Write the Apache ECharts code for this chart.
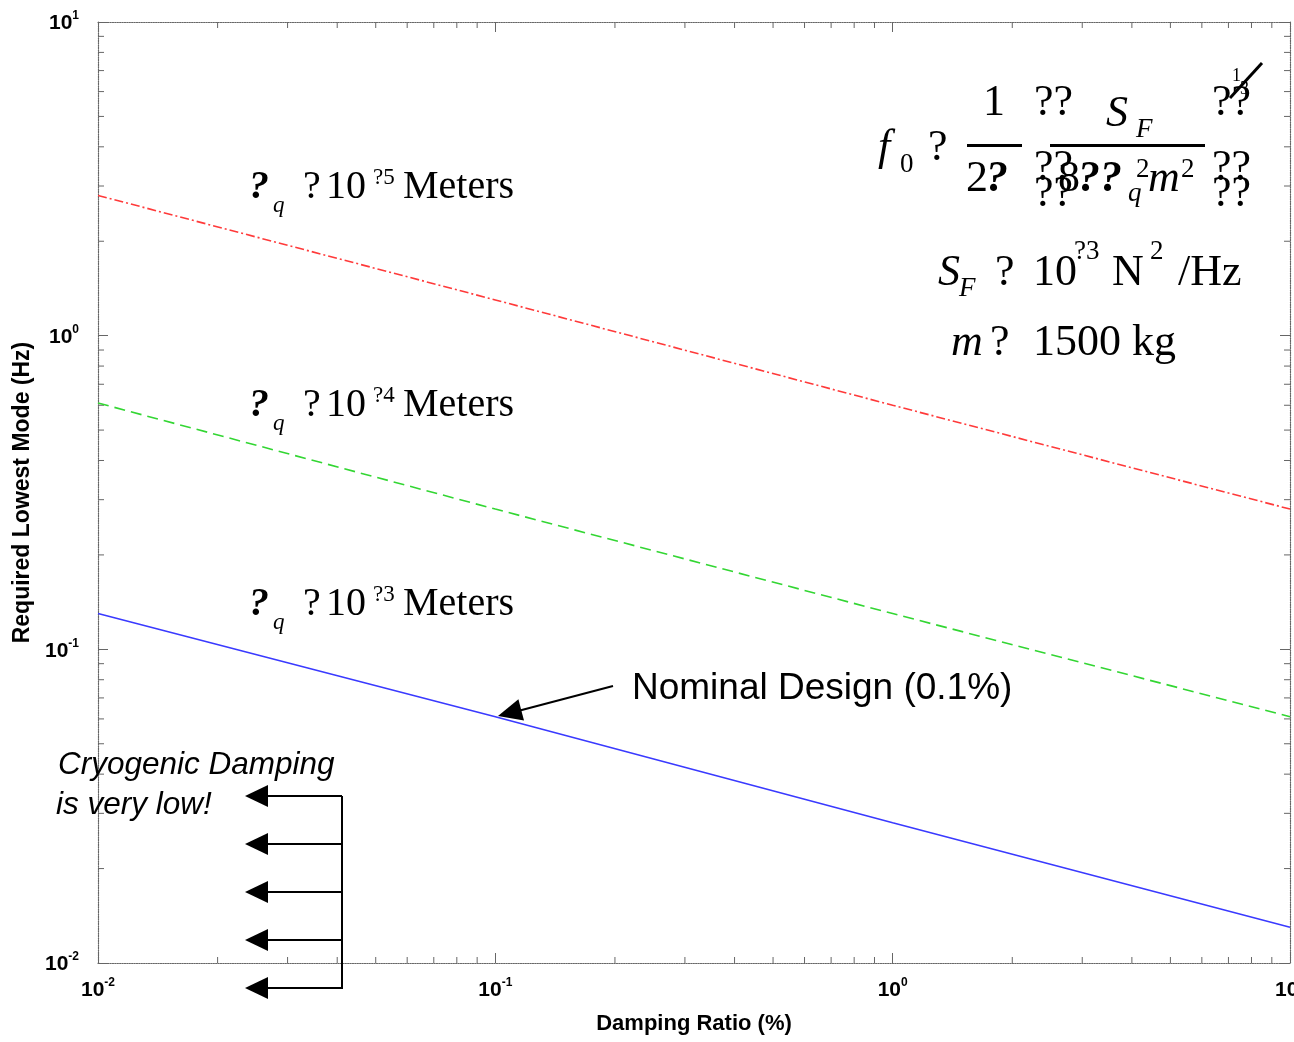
<!DOCTYPE html>
<html>
<head>
<meta charset="utf-8">
<style>
  html, body { margin: 0; padding: 0; background: #fff; }
  #chart { width: 1294px; height: 1042px; }
</style>
<script src="https://cdn.jsdelivr.net/npm/echarts@6/dist/echarts.min.js"></script>
</head>
<body>
<div id="chart"></div>
<script>
// ---- data ----
const dampingRatio = [0.01, 0.1, 1, 10];           // Damping Ratio (%)
const mode1e5 = [2.8, 1.3, 0.6, 0.28];             // δq = 10^-5 m
const mode1e4 = [0.61, 0.28, 0.13, 0.061];         // δq = 10^-4 m
const mode1e3 = [0.13, 0.061, 0.028, 0.013];       // δq = 10^-3 m

const xRange = [0.01, 10];
const yRange = [0.01, 10];
const xMinorTicks = [0.02,0.03,0.04,0.05,0.06,0.07,0.08,0.09,
                     0.2,0.3,0.4,0.5,0.6,0.7,0.8,0.9,
                     2,3,4,5,6,7,8,9];
const yMinorTicks = [0.02,0.03,0.04,0.05,0.06,0.07,0.08,0.09,
                     0.2,0.3,0.4,0.5,0.6,0.7,0.8,0.9,
                     2,3,4,5,6,7,8,9];

const SERIF = '"Liberation Serif", "Times New Roman", serif';
const SANS = '"Liberation Sans", Arial, sans-serif';

function pair(arr) { return dampingRatio.map((x, i) => [x, arr[i]]); }

function logLabel(v) {
  const e = Math.round(Math.log10(v));
  return '{b|10}{s|' + e + '}';
}
const labelRich = {
  b: { fontFamily: SANS, fontWeight: 'bold', fontSize: 21, lineHeight: 24, verticalAlign: 'bottom', color: '#000' },
  s: { fontFamily: SANS, fontWeight: 'bold', fontSize: 12, lineHeight: 12, verticalAlign: 'top', color: '#000' }
};

const frameLine = { show: true, lineStyle: { color: '#666', width: 1.2, type: 'dotted' } };
const majorTick = { show: true, inside: true, length: 10, lineStyle: { color: '#666', width: 1 } };

// text helper for annotations (baseline positioning)
function T(x, baseline, text, size, opt) {
  opt = opt || {};
  const fam = opt.sans ? SANS : SERIF;
  const font = (opt.italic ? 'italic ' : '') + (opt.bold ? 'bold ' : '') + size + 'px ' + fam;
  return {
    type: 'text', z: 100,
    style: {
      text: text, x: x, y: baseline - 0.31 * size, font: font,
      fill: '#000', align: opt.align || 'left', verticalAlign: 'middle'
    }
  };
}
function L(x1, y1, x2, y2, w) {
  return { type: 'line', z: 100, shape: { x1, y1, x2, y2 }, style: { stroke: '#000', lineWidth: w || 2 } };
}
function tri(pts) {
  return { type: 'polygon', z: 100, shape: { points: pts }, style: { fill: '#000' } };
}

const graphics = [];
// series labels
function seriesLabel(b, supText) {
  graphics.push(T(249, b, '?', 40, { bold: true, italic: true }));
  graphics.push(T(273, b + 13, 'q', 23, { italic: true }));
  graphics.push(T(303, b, '?', 40));
  graphics.push(T(326, b, '10', 40));
  graphics.push(T(373, b - 15, supText, 23));
  graphics.push(T(403, b, 'Meters', 40));
}
seriesLabel(200, '?5');
seriesLabel(418, '?4');
seriesLabel(617, '?3');

// equation
const E = 44, ES = 27;
graphics.push(T(878, 162, 'f', E, { italic: true }));
graphics.push(T(900, 173, '0', ES));
graphics.push(T(928, 162, '?', E));
graphics.push(T(994, 117, '1', E, { align: 'center' }));
graphics.push({ type: 'rect', z: 100, shape: { x: 967, y: 144, width: 55, height: 3 }, style: { fill: '#000' } });
graphics.push(T(966, 193, '2', E));
graphics.push(T(986, 193, '?', E, { bold: true, italic: true }));
[117, 182, 208].forEach(b => graphics.push(T(1034, b, '??', E)));
graphics.push(T(1106, 128, 'S', E, { italic: true }));
graphics.push(T(1136, 138, 'F', ES, { italic: true }));
graphics.push({ type: 'rect', z: 100, shape: { x: 1050, y: 144, width: 155, height: 3 }, style: { fill: '#000' } });
graphics.push(T(1058, 193, '8', E));
graphics.push(T(1078, 193, '??', E, { bold: true, italic: true }));
graphics.push(T(1128, 202, 'q', ES, { italic: true }));
graphics.push(T(1136, 178, '2', ES));
graphics.push(T(1148, 193, 'm', E, { italic: true }));
graphics.push(T(1181, 178, '2', ES));
[117, 182, 208].forEach(b => graphics.push(T(1212, b, '??', E)));
graphics.push(T(1232, 82, '1', 18));
graphics.push(T(1240, 95, '3', 18));
graphics.push(L(1230, 98, 1262, 63, 3));

// S_F line
graphics.push(T(938, 287, 'S', E, { italic: true }));
graphics.push(T(959, 297, 'F', ES, { italic: true }));
graphics.push(T(995, 287, '?', E));
graphics.push(T(1033, 287, '10', E));
graphics.push(T(1074, 260, '?3', ES));
graphics.push(T(1112, 287, 'N', E));
graphics.push(T(1150, 260, '2', ES));
graphics.push(T(1178, 287, '/Hz', E));
// m line
graphics.push(T(951, 357, 'm', E, { italic: true }));
graphics.push(T(990, 357, '?', E));
graphics.push(T(1033, 357, '1500', E));
graphics.push(T(1132, 357, 'kg', E));

// Nominal design
graphics.push(T(632, 700, 'Nominal Design (0.1%)', 37, { sans: true }));
graphics.push(L(613, 686, 518, 711, 2));
graphics.push(tri([[498, 716], [524, 720.6], [518.4, 699.3]]));

// Cryogenic damping
graphics.push(T(58, 775, 'Cryogenic Damping', 31.5, { sans: true, italic: true }));
graphics.push(T(56, 815, 'is very low!', 31.5, { sans: true, italic: true }));
graphics.push(L(342, 796, 342, 989, 2));
[796, 844, 892, 940, 988].forEach(y => {
  graphics.push(L(342, y, 265, y, 2));
  graphics.push(tri([[245, y], [268, y - 11], [268, y + 11]]));
});

function minorTickSeries(isX) {
  return {
    type: 'custom',
    coordinateSystem: 'cartesian2d',
    xAxisIndex: 0, yAxisIndex: 0,
    silent: true, clip: false, z: 5,
    data: (isX ? xMinorTicks : yMinorTicks).map(v => isX ? [v, 1] : [1, v]),
    renderItem: function (params, api) {
      const st = { stroke: '#666', lineWidth: 1 };
      if (isX) {
        const v = api.value(0);
        const b = api.coord([v, yRange[0]]);
        const t = api.coord([v, yRange[1]]);
        return { type: 'group', children: [
          { type: 'line', shape: { x1: b[0], y1: b[1], x2: b[0], y2: b[1] - 6 }, style: st },
          { type: 'line', shape: { x1: t[0], y1: t[1], x2: t[0], y2: t[1] + 6 }, style: st }
        ] };
      } else {
        const v = api.value(1);
        const l = api.coord([xRange[0], v]);
        const r = api.coord([xRange[1], v]);
        return { type: 'group', children: [
          { type: 'line', shape: { x1: l[0], y1: l[1], x2: l[0] + 6, y2: l[1] }, style: st },
          { type: 'line', shape: { x1: r[0], y1: r[1], x2: r[0] - 6, y2: r[1] }, style: st }
        ] };
      }
    }
  };
}

const chart = echarts.init(document.getElementById('chart'), null, { renderer: 'canvas' });
chart.setOption({
  backgroundColor: '#fff',
  animation: false,
  grid: { left: 98, top: 22, right: 4, bottom: 79, containLabel: false, outerBoundsMode: 'none' },
  xAxis: [
    {
      type: 'log', logBase: 10, min: xRange[0], max: xRange[1], position: 'bottom',
      name: 'Damping Ratio (%)', nameLocation: 'middle', nameGap: 50,
      nameTextStyle: { fontFamily: SANS, fontWeight: 'bold', fontSize: 22, color: '#000' },
      axisLine: frameLine, axisTick: majorTick, splitLine: { show: false }, minorTick: { show: false },
      axisLabel: { margin: 14, formatter: logLabel, rich: labelRich }
    },
    {
      type: 'log', logBase: 10, min: xRange[0], max: xRange[1], position: 'top',
      axisLine: frameLine, axisTick: majorTick, splitLine: { show: false }, axisLabel: { show: false }
    }
  ],
  yAxis: [
    {
      type: 'log', logBase: 10, min: yRange[0], max: yRange[1], position: 'left',
      name: 'Required Lowest Mode (Hz)', nameLocation: 'middle', nameGap: 63,
      nameTextStyle: { fontFamily: SANS, fontWeight: 'bold', fontSize: 23, color: '#000' },
      axisLine: frameLine, axisTick: majorTick, splitLine: { show: false },
      axisLabel: { margin: 19, formatter: logLabel, rich: labelRich }
    },
    {
      type: 'log', logBase: 10, min: yRange[0], max: yRange[1], position: 'right',
      axisLine: frameLine, axisTick: majorTick, splitLine: { show: false }, axisLabel: { show: false }
    }
  ],
  series: [
    {
      name: 'dq=1e-5', type: 'line', data: pair(mode1e5), showSymbol: false, silent: true,
      lineStyle: { color: '#ff3a3a', width: 1.6, type: [9, 3, 2, 3] }, z: 10
    },
    {
      name: 'dq=1e-4', type: 'line', data: pair(mode1e4), showSymbol: false, silent: true,
      lineStyle: { color: '#33d633', width: 1.6, type: [11, 6] }, z: 10
    },
    {
      name: 'dq=1e-3', type: 'line', data: pair(mode1e3), showSymbol: false, silent: true,
      lineStyle: { color: '#3a3aff', width: 1.6, type: 'solid' }, z: 10
    },
    minorTickSeries(true),
    minorTickSeries(false)
  ],
  graphic: graphics
});
</script>
</body>
</html>
